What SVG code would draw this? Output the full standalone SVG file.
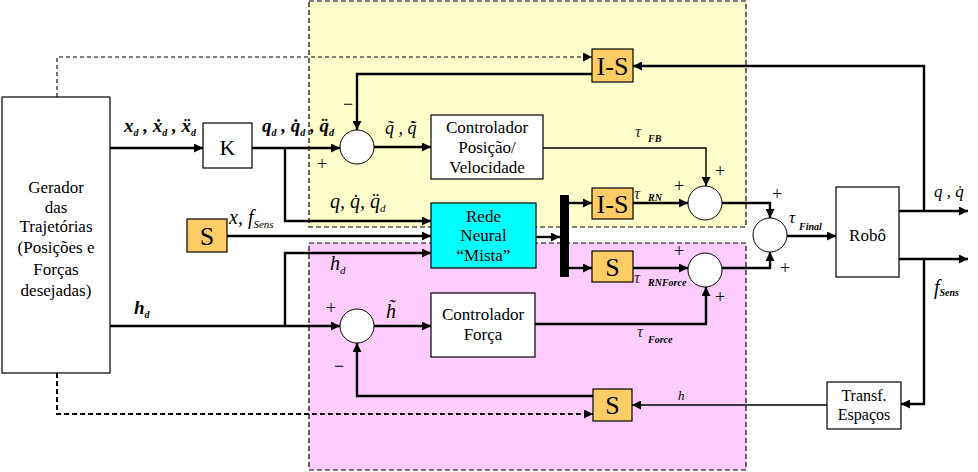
<svg xmlns="http://www.w3.org/2000/svg" width="978" height="472" viewBox="0 0 978 472">
<style>
.box{fill:#fff;stroke:#000;stroke-width:1.2}
.org{fill:#FFCC66;stroke:#000;stroke-width:1.2}
.sum{fill:#fff;stroke:#000;stroke-width:1}
.ln{fill:none;stroke:#000;stroke-width:2.4}
.th{fill:none;stroke:#000;stroke-width:1.4}
.t{font-family:"Liberation Serif",serif;font-size:17px;text-anchor:middle;fill:#000}
.big{font-family:"Liberation Serif",serif;font-size:26px;text-anchor:middle;fill:#000}
.m{font-family:"Liberation Serif",serif;font-style:italic;font-size:20px;fill:#000}
.mb{font-family:"Liberation Serif",serif;font-style:italic;font-weight:bold;font-size:19px;fill:#000}
.s{font-family:"Liberation Serif",serif;font-style:italic;font-size:11px;fill:#000}
.sb{font-family:"Liberation Serif",serif;font-style:italic;font-weight:bold;font-size:10px;fill:#000}
.tau{font-family:"Liberation Serif",serif;font-style:italic;font-size:17px;fill:#333}
.pm{font-family:"Liberation Serif",serif;font-size:18px;text-anchor:middle;fill:#000}
</style>
<defs>
<marker id="ar" viewBox="0 0 10 10" refX="10" refY="5" markerWidth="10" markerHeight="9" markerUnits="userSpaceOnUse" orient="auto"><path d="M0,0 L10,5 L0,10 z" fill="#000"/></marker>
</defs>
<rect width="978" height="472" fill="#fff"/>
<g id="regions">
<rect x="309" y="1" width="437" height="226" fill="#FFFFCC" stroke="#000" stroke-width="1.2" stroke-dasharray="5 3"/>
<rect x="309" y="243" width="437" height="227" fill="#FFCCFF" stroke="#000" stroke-width="1.2" stroke-dasharray="5 3"/>
</g>
<g id="connectors">
<path class="ln" d="M110,148 H203" marker-end="url(#ar)"/>
<path class="ln" d="M252,148 H340" marker-end="url(#ar)"/>
<path class="ln" d="M285,148 V221 H431" marker-end="url(#ar)"/>
<path class="ln" d="M227,236 H431" marker-end="url(#ar)"/>
<path class="ln" d="M110,326 H340" marker-end="url(#ar)"/>
<path class="ln" d="M285,326 V253 H431" marker-end="url(#ar)"/>
<path class="ln" d="M374,147 H431" marker-end="url(#ar)"/>
<path class="ln" d="M374,326 H431" marker-end="url(#ar)"/>
<path class="th" d="M543,148 H706 V186" marker-end="url(#ar)"/>
<path class="ln" d="M535,324 H706 V287" marker-end="url(#ar)"/>
<path class="ln" d="M536,237 H560" marker-end="url(#ar)"/>
<path class="ln" d="M569,203 H592" marker-end="url(#ar)"/>
<path class="ln" d="M569,268 H592" marker-end="url(#ar)"/>
<path class="ln" d="M633,203 H688" marker-end="url(#ar)"/>
<path class="ln" d="M633,268 H688" marker-end="url(#ar)"/>
<path class="ln" d="M722,203 H770 V218" marker-end="url(#ar)"/>
<path class="ln" d="M722,268 H770 V252" marker-end="url(#ar)"/>
<path class="ln" d="M787,236 H836" marker-end="url(#ar)"/>
<path class="ln" d="M899,211 H968" marker-end="url(#ar)"/>
<path class="ln" d="M899,259 H968" marker-end="url(#ar)"/>
<path class="ln" d="M924,211 V66 H633" marker-end="url(#ar)"/>
<path class="ln" d="M924,259 V404 H901" marker-end="url(#ar)"/>
<path class="th" d="M827,405 H632" marker-end="url(#ar)"/>
<path class="ln" d="M592,74 H357 V130" marker-end="url(#ar)"/>
<path class="ln" d="M593,396 H357 V343" marker-end="url(#ar)"/>
<path fill="none" stroke="#000" stroke-width="1.1" stroke-dasharray="4 3" d="M57,97 V57 H592" marker-end="url(#ar)"/>
<path fill="none" stroke="#000" stroke-width="2" stroke-dasharray="5 3" d="M57,373 V414 H593" marker-end="url(#ar)"/>
</g>
<g id="gerador">
<rect class="box" x="2" y="97" width="108" height="276"/>
<text class="t" x="56" y="193">Gerador</text>
<text class="t" x="56" y="213">das</text>
<text class="t" x="56" y="232">Trajetórias</text>
<text class="t" x="56" y="253">(Posições e</text>
<text class="t" x="56" y="275">Forças</text>
<text class="t" x="56" y="296">desejadas)</text>
</g>
<g id="K"><rect class="box" x="203" y="123" width="49" height="45"/><text class="t" x="227.5" y="155" style="font-size:22px">K</text></g>
<g id="S_in"><rect class="org" x="187" y="219" width="40" height="33"/><text class="big" x="207" y="245">S</text></g>
<g id="sum_q"><circle class="sum" cx="357" cy="147" r="17"/></g>
<g id="sum_h"><circle class="sum" cx="357" cy="326" r="17"/></g>
<g id="ctrl_pos"><rect class="box" x="431" y="115" width="112" height="64"/>
<text class="t" x="487" y="133">Controlador</text><text class="t" x="487" y="153">Posição/</text><text class="t" x="487" y="173">Velocidade</text></g>
<g id="rede"><rect x="431" y="203" width="105" height="65" fill="#00FFFF" stroke="#000" stroke-width="1.2"/>
<text class="t" x="483.5" y="222">Rede</text><text class="t" x="483.5" y="241">Neural</text><text class="t" x="483.5" y="261">“Mista”</text></g>
<g id="ctrl_forca"><rect class="box" x="431" y="293" width="104" height="64"/>
<text class="t" x="483" y="320">Controlador</text><text class="t" x="483" y="340">Força</text></g>
<g id="bar"><rect x="560" y="195" width="9" height="82" fill="#000"/></g>
<g id="IS_top"><rect class="org" x="592" y="49" width="41" height="33"/><text class="big" x="612.5" y="75">I-S</text></g>
<g id="IS_rn"><rect class="org" x="592" y="188" width="41" height="31"/><text class="big" x="612.5" y="213">I-S</text></g>
<g id="S_rnf"><rect class="org" x="592" y="251" width="41" height="31"/><text class="big" x="612.5" y="276">S</text></g>
<g id="S_bot"><rect class="org" x="593" y="389" width="39" height="32"/><text class="big" x="612.5" y="414">S</text></g>
<g id="sum_rn"><circle class="sum" cx="705" cy="203" r="17"/></g>
<g id="sum_rnf"><circle class="sum" cx="705" cy="270" r="17"/></g>
<g id="sum_final"><circle class="sum" cx="770" cy="235" r="17"/></g>
<g id="robo"><rect class="box" x="836" y="187" width="63" height="90"/><text class="t" x="867.5" y="241">Robô</text></g>
<g id="transf"><rect class="box" x="827" y="382" width="74" height="47"/>
<text class="t" x="864" y="401" style="font-size:16px">Transf.</text><text class="t" x="864" y="420" style="font-size:16px">Espaços</text></g>
<g id="labels">
<text class="mb" x="124" y="132">x<tspan class="sb" dy="4">d</tspan><tspan dy="-4"> , ẋ</tspan><tspan class="sb" dy="4">d</tspan><tspan dy="-4"> , ẍ</tspan><tspan class="sb" dy="4">d</tspan></text>
<text class="mb" x="262" y="132">q<tspan class="sb" dy="4">d</tspan><tspan dy="-4"> , q̇</tspan><tspan class="sb" dy="4">d</tspan><tspan dy="-4"> , q̈</tspan><tspan class="sb" dy="4">d</tspan></text>
<text class="m" x="385" y="134" style="font-size:18px">q̃ , q̃̇</text>
<text class="m" x="330" y="208">q, q̇, q̈<tspan class="s" dy="4">d</tspan></text>
<text class="m" x="229" y="224">x, f<tspan class="s" dy="4">Sens</tspan></text>
<text class="m" x="330" y="270">h<tspan class="s" dy="4">d</tspan></text>
<text class="mb" x="134" y="314">h<tspan class="sb" dy="4">d</tspan></text>
<text class="m" x="386" y="318">h̃</text>
<text class="s" x="678" y="400" style="font-size:13px">h</text>
<text class="tau" x="635" y="137">τ</text><text class="sb" x="648" y="142">FB</text>
<text class="tau" x="634" y="199">τ</text><text class="sb" x="648" y="201">RN</text>
<text class="tau" x="634" y="283">τ</text><text class="sb" x="648" y="286">RNForce</text>
<text class="tau" x="637" y="337">τ</text><text class="sb" x="648" y="343">Force</text>
<text class="tau" x="789" y="223" style="fill:#000">τ</text><text class="sb" x="799" y="230">Final</text>
<text class="m" x="934" y="197" style="font-size:17px">q , q̇</text>
<text class="m" x="934" y="294">f<tspan class="sb" dy="2">Sens</tspan></text>
<text class="pm" x="322" y="170">+</text>
<text class="pm" x="348" y="110">−</text>
<text class="pm" x="331" y="314">+</text>
<text class="pm" x="339" y="372">−</text>
<text class="pm" x="679" y="192">+</text>
<text class="pm" x="720" y="177">+</text>
<text class="pm" x="679" y="257">+</text>
<text class="pm" x="720" y="303">+</text>
<text class="pm" x="777" y="200">+</text>
<text class="pm" x="785" y="274">+</text>
</g>
</svg>
